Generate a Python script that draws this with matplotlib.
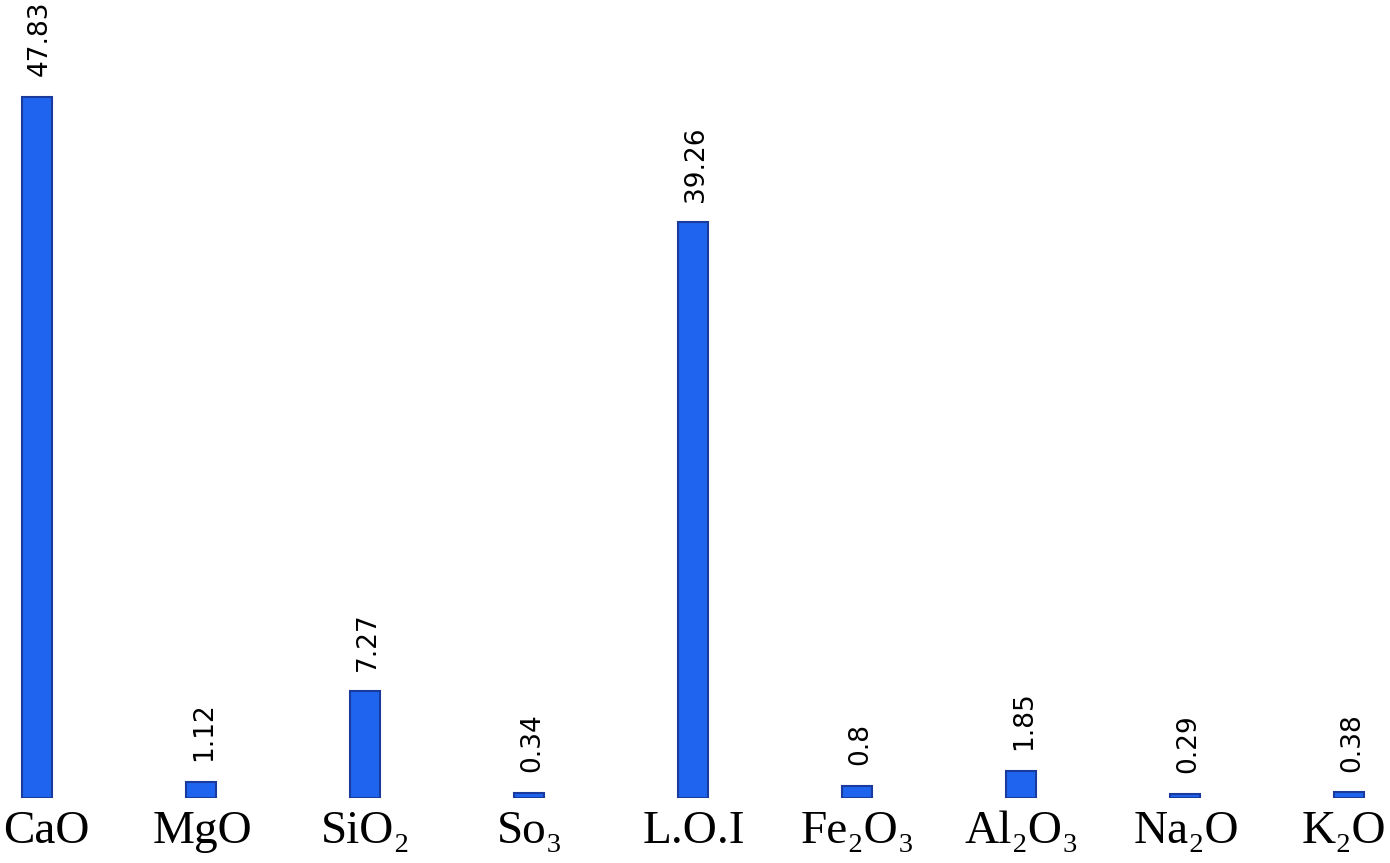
import matplotlib
matplotlib.use("Agg")
import matplotlib.pyplot as plt
import matplotlib.transforms as mtransforms

categories = ["CaO", "MgO", "SiO₂", "So₃", "L.O.I", "Fe₂O₃", "Al₂O₃", "Na₂O", "K₂O"]
values = [47.83, 1.12, 7.27, 0.34, 39.26, 0.8, 1.85, 0.29, 0.38]
value_labels = ["47.83", "1.12", "7.27", "0.34", "39.26", "0.8", "1.85", "0.29", "0.38"]

W, H, DPI = 1390, 863, 100
fig = plt.figure(figsize=(W / DPI, H / DPI), dpi=DPI)
base_px = 798
ax = fig.add_axes([0, (H - base_px) / H, 1, base_px / H])

x = list(range(len(categories)))
ax.bar(x, values, width=0.18, color="#1f64ee", edgecolor="#1a3a9e", linewidth=1.5, zorder=2)

ax.set_xlim(-37 / 164, -37 / 164 + W / 164)
ax.set_ylim(0, base_px / 14.66)

for xi, v, lab in zip(x, values, value_labels):
    ax.annotate(lab, (xi, v), xytext=(2, 15), textcoords="offset points",
                rotation=90, ha="center", va="bottom",
                fontsize=19, family="DejaVu Sans", color="black")

ax.set_xticks(x)
ax.set_xticklabels(categories, fontsize=34, family=["Liberation Serif", "DejaVu Serif"])
ax.tick_params(axis="x", length=0, pad=9)
labels = ax.get_xticklabels()
shifts = {0: 9, len(labels) - 1: -5}
for i, lbl in enumerate(labels):
    dx = shifts.get(i, 1)
    off = mtransforms.ScaledTranslation(dx / DPI, 0, fig.dpi_scale_trans)
    lbl.set_transform(lbl.get_transform() + off)
ax.set_yticks([])
for s in ax.spines.values():
    s.set_visible(False)

fig.savefig("out.png", dpi=DPI, facecolor="white")
